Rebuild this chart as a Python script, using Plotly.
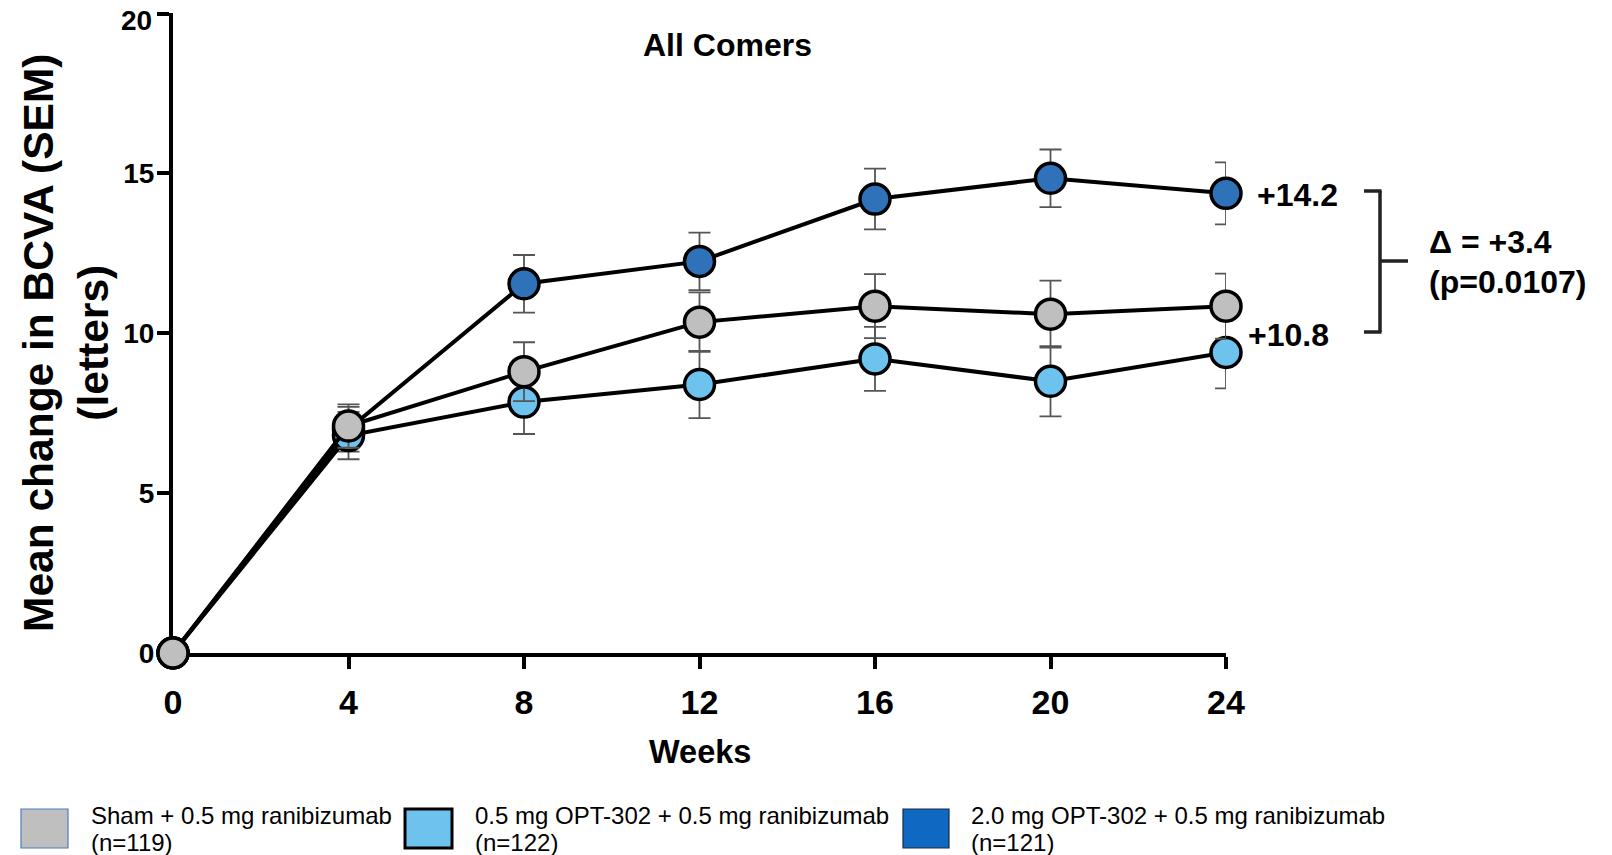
import plotly.graph_objects as go

# ---- data ----
weeks = [0, 4, 8, 12, 16, 20, 24]
x_ticks = [0, 4, 8, 12, 16, 20, 24]
y_ticks = [0, 5, 10, 15, 20]

sham_mean = [0.0, 7.1, 8.8, 10.35, 10.85, 10.6, 10.85]
sham_sem = [0.0, 0.68, 0.92, 0.93, 1.0, 1.05, 1.02]

low_mean = [0.0, 6.8, 7.85, 8.4, 9.2, 8.5, 9.4]
low_sem = [0.0, 0.74, 1.0, 1.05, 1.0, 1.1, 1.12]

high_mean = [0.0, 7.0, 11.55, 12.25, 14.2, 14.85, 14.38]
high_sem = [0.0, 0.7, 0.9, 0.9, 0.95, 0.9, 0.97]

series_names = ["Sham + 0.5 mg ranibizumab", "0.5 mg OPT-302 + 0.5 mg ranibizumab",
                "2.0 mg OPT-302 + 0.5 mg ranibizumab"]
series_n = ["(n=119)", "(n=122)", "(n=121)"]
end_labels = ["+14.2", "+10.8"]
delta_label = ["Δ = +3.4", "(p=0.0107)"]

title_text = "All Comers"
x_title = "Weeks"
y_title = "Mean change in BCVA (SEM)<br>(letters)"

# ---- style ----
W, H = 1612, 855
L, R, T, B = 173, 386, 13, 202
PW, PH = W - L - R, H - T - B


def xp(px):
    return (px - L) / PW


def yp(py):
    return (H - B - py) / PH


C_SHAM = "#BFBFBF"
C_LOW = "#6DC2EE"
C_HIGH = "#2F72BA"
FONT = "Liberation Sans, Arial, sans-serif"

fig = go.Figure()


def add_series(mean, sem, color, name):
    fig.add_trace(go.Scatter(
        x=weeks, y=mean, mode="lines+markers", name=name,
        line=dict(color="black", width=4),
        marker=dict(size=30, color=color, line=dict(color="black", width=3.5)),
        error_y=dict(type="data", array=sem, visible=True,
                     color="#555555", thickness=1.8, width=11),
        cliponaxis=False, showlegend=False,
    ))


add_series(high_mean, high_sem, C_HIGH, series_names[2])
add_series(low_mean, low_sem, C_LOW, series_names[1])
add_series(sham_mean, sham_sem, C_SHAM, series_names[0])

annotations = []
# title
annotations.append(dict(x=xp(727), y=yp(45), xref="paper", yref="paper",
                        text="<b>%s</b>" % title_text, showarrow=False,
                        font=dict(size=32, color="black", family=FONT),
                        xanchor="center", yanchor="middle"))
# axis titles
annotations.append(dict(x=xp(66), y=yp(343), xref="paper", yref="paper",
                        text="<b>%s</b>" % y_title, showarrow=False, textangle=-90,
                        font=dict(size=42.5, color="black", family=FONT),
                        xanchor="center", yanchor="middle"))
annotations.append(dict(x=xp(700), y=yp(752), xref="paper", yref="paper",
                        text="<b>%s</b>" % x_title, showarrow=False,
                        font=dict(size=32.5, color="black", family=FONT),
                        xanchor="center", yanchor="middle"))
# top y tick label (placed slightly lower, as in the original, so it isn't cut)
top_tick = y_ticks[-1]
annotations.append(dict(x=xp(154), y=yp(21), xref="paper", yref="paper",
                        text="<b>%d</b>" % top_tick, showarrow=False,
                        font=dict(size=28, color="black", family=FONT),
                        xanchor="right", yanchor="middle"))
# end labels
lab_font = dict(size=32, color="black", family=FONT)
annotations.append(dict(x=xp(1255), y=yp(195), xref="paper", yref="paper",
                        text="<b>%s</b>" % end_labels[0], showarrow=False,
                        font=lab_font, xanchor="left", yanchor="middle"))
annotations.append(dict(x=xp(1246), y=yp(335), xref="paper", yref="paper",
                        text="<b>%s</b>" % end_labels[1], showarrow=False,
                        font=lab_font, xanchor="left", yanchor="middle"))
annotations.append(dict(x=xp(1427), y=yp(242), xref="paper", yref="paper",
                        text="<b>%s</b>" % delta_label[0], showarrow=False,
                        font=lab_font, xanchor="left", yanchor="middle"))
annotations.append(dict(x=xp(1427), y=yp(282), xref="paper", yref="paper",
                        text="<b>%s</b>" % delta_label[1], showarrow=False,
                        font=lab_font, xanchor="left", yanchor="middle"))

shapes = []
# bracket
bl = dict(color="#222222", width=3.5)
shapes.append(dict(type="line", xref="paper", yref="paper", x0=xp(1380), x1=xp(1380),
                   y0=yp(191), y1=yp(332), line=bl))
shapes.append(dict(type="line", xref="paper", yref="paper", x0=xp(1364), x1=xp(1381.5),
                   y0=yp(191), y1=yp(191), line=bl))
shapes.append(dict(type="line", xref="paper", yref="paper", x0=xp(1364), x1=xp(1381.5),
                   y0=yp(332), y1=yp(332), line=bl))
shapes.append(dict(type="line", xref="paper", yref="paper", x0=xp(1380), x1=xp(1408),
                   y0=yp(261), y1=yp(261), line=bl))

# legend boxes and texts
legend_boxes = [
    (21, 68, C_SHAM, "#4A7EBB", 1.2, 89),
    (405, 452, C_LOW, "black", 3, 473),
    (903, 949, "#0F69C2", "#1a2a40", 1.2, 969),
]
for i, (x0, x1, fc, lc, lw, tx) in enumerate(legend_boxes):
    shapes.append(dict(type="rect", xref="paper", yref="paper",
                       x0=xp(x0), x1=xp(x1), y0=yp(848), y1=yp(809),
                       fillcolor=fc, line=dict(color=lc, width=lw)))
    annotations.append(dict(x=xp(tx), y=yp(815), xref="paper", yref="paper",
                            text=series_names[i], showarrow=False,
                            font=dict(size=24, color="black", family=FONT),
                            xanchor="left", yanchor="middle"))
    annotations.append(dict(x=xp(tx), y=yp(842), xref="paper", yref="paper",
                            text=series_n[i], showarrow=False,
                            font=dict(size=24, color="black", family=FONT),
                            xanchor="left", yanchor="middle"))

fig.update_layout(
    width=W, height=H,
    margin=dict(l=L, r=R, t=T, b=B, pad=0, autoexpand=False),
    paper_bgcolor="white", plot_bgcolor="white",
    showlegend=False,
    annotations=annotations, shapes=shapes,
    font=dict(family=FONT, color="black"),
)
fig.update_xaxes(
    range=[0, 24], tickvals=x_ticks, ticktext=["<b>%d</b>" % v for v in x_ticks],
    showline=True, linecolor="black", linewidth=4, mirror=False,
    ticks="outside", ticklen=12, tickwidth=3.5, tickcolor="black",
    showgrid=False, zeroline=False, layer="below traces", automargin=False,
    tickfont=dict(size=34, color="black", family=FONT),
    ticklabelstandoff=4, ticklabeloverflow="allow",
)
fig.update_yaxes(
    range=[0, 20.02], tickvals=y_ticks,
    ticktext=["<b>%d</b>" % v if v != top_tick else "" for v in y_ticks],
    showline=True, linecolor="black", linewidth=4, mirror=False,
    ticks="outside", ticklen=12, tickwidth=3.5, tickcolor="black",
    showgrid=False, zeroline=False, layer="below traces", automargin=False,
    tickfont=dict(size=28, color="black", family=FONT),
    ticklabelstandoff=-3, ticklabeloverflow="allow",
)

fig.write_html("out.html", config={"displayModeBar": False},
               post_script="document.body.style.margin='0';document.body.style.overflow='hidden';")
